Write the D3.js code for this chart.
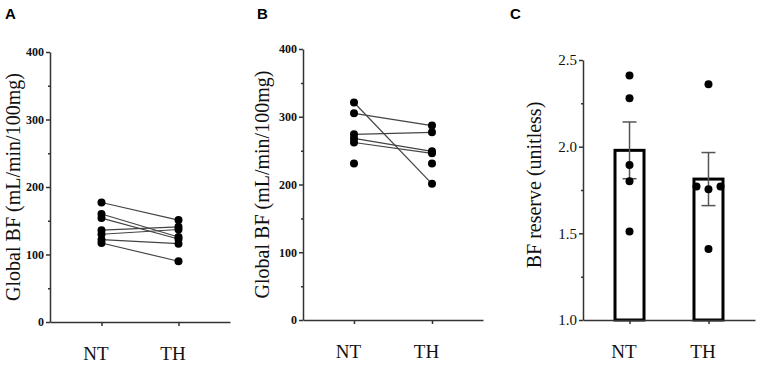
<!DOCTYPE html>
<html>
<head>
<meta charset="utf-8">
<script src="https://cdn.jsdelivr.net/npm/d3@7"></script>
<style>
  body { margin: 0; background: #fff; }
  .axis path, .axis line { stroke: #333; stroke-width: 1.5px; }
</style>
</head>
<body>
<svg id="chart" width="765" height="367"></svg>
<script>
// data
const groups = ["NT", "TH"];

// panel A: paired global BF (mL/min/100mg)
const aNT = [177, 160, 154, 136, 130, 122, 117];
const aTH = [151, 126, 123, 141, 137, 116, 90];

// panel B: paired global BF, plus one unpaired point per group
const bNT = [321, 305, 274, 268, 262];
const bTH = [201, 287, 277, 249, 246];
const bNTsingle = [231];
const bTHsingle = [231];

// panel C: BF reserve
const cNT = [2.41, 2.28, 1.894, 1.80, 1.51];
const cTH = [2.36, 1.77, 1.755, 1.77, 1.41];

const bfTicks = [0, 100, 200, 300, 400];
const bfMinor = [50, 150, 250, 350];
const resTicks = [1.0, 1.5, 2.0, 2.5];
const resMinor = [1.25, 1.75, 2.25];

const serif = '"Liberation Serif", "Times New Roman", serif';
const svg = d3.select("#chart");

function drawAxes(g, x, y, ticks, minor, fmt, tickFont, bold) {
  const ya = g.append("g").attr("class", "axis")
    .attr("transform", `translate(${x.range()[0]},0)`)
    .call(d3.axisLeft(y).tickValues(ticks).tickFormat(fmt).tickSize(4).tickSizeOuter(0).tickPadding(2));
  ya.selectAll("text")
    .style("font-family", serif)
    .style("font-size", tickFont + "px")
    .style("font-weight", bold ? "bold" : "normal")
    .attr("fill", "#111");
  g.append("g").attr("class", "axis")
    .attr("transform", `translate(${x.range()[0]},0)`)
    .call(d3.axisLeft(y).tickValues(minor).tickSize(2).tickFormat(""))
    .select(".domain").remove();

  const xa = g.append("g").attr("class", "axis")
    .attr("transform", `translate(0,${y.range()[0]})`)
    .call(d3.axisBottom(x).tickSize(4).tickSizeOuter(0).tickPadding(21));
  xa.selectAll("text")
    .style("font-family", serif)
    .style("font-size", "19px")
    .attr("fill", "#111").attr("dx", -6);
}

function pairedPanel(opts) {
  const g = svg.append("g");
  const x = d3.scalePoint().domain(groups).range(opts.xr).padding(opts.pad);
  const y = d3.scaleLinear().domain([0, 400]).range(opts.yr);
  drawAxes(g, x, y, bfTicks, bfMinor, d3.format("d"), 12, true);

  const pairs = d3.zip(opts.nt, opts.th);
  g.selectAll(".pair").data(pairs).join("line")
    .attr("x1", x("NT")).attr("x2", x("TH"))
    .attr("y1", d => y(d[0])).attr("y2", d => y(d[1]))
    .attr("stroke", "#444").attr("stroke-width", 1.2);

  const pts = opts.nt.concat(opts.ntSingle || []).map(v => ["NT", v])
    .concat(opts.th.concat(opts.thSingle || []).map(v => ["TH", v]));
  g.selectAll(".pt").data(pts).join("circle")
    .attr("cx", d => x(d[0])).attr("cy", d => y(d[1])).attr("r", 4).attr("fill", "#000");

  g.append("text")
    .attr("transform", `translate(${opts.labelX},${(opts.yr[0] + opts.yr[1]) / 2}) rotate(-90)`)
    .attr("text-anchor", "middle")
    .style("font-family", serif).style("font-size", "20px").attr("fill", "#111")
    .text("Global BF (mL/min/100mg)");
}

pairedPanel({ xr: [50, 230], pad: 0.669, yr: [322, 52], nt: aNT, th: aTH, labelX: 20 });
pairedPanel({ xr: [303, 483], pad: 0.654, yr: [320, 49], nt: bNT, th: bTH,
  ntSingle: bNTsingle, thSingle: bTHsingle, labelX: 269 });

// panel C: mean +/- SEM bars with points
(function () {
  const g = svg.append("g");
  const x = d3.scalePoint().domain(groups).range([583, 755]).padding(0.589);
  const y = d3.scaleLinear().domain([1.0, 2.5]).range([320, 60]);
  const sets = [["NT", cNT], ["TH", cTH]].map(([k, v]) => {
    const m = d3.mean(v);
    const sem = d3.deviation(v) / Math.sqrt(v.length);
    return { k, v, m, sem };
  });
  const bw = 29;

  g.selectAll(".bar").data(sets).join("rect")
    .attr("x", d => x(d.k) - bw / 2).attr("width", bw)
    .attr("y", d => y(d.m)).attr("height", d => y(1.0) - y(d.m))
    .attr("fill", "#fff").attr("stroke", "#000").attr("stroke-width", 3);

  const eb = g.selectAll(".err").data(sets).join("g").attr("stroke", "#555").attr("stroke-width", 1.5);
  eb.append("line").attr("x1", d => x(d.k)).attr("x2", d => x(d.k))
    .attr("y1", d => y(d.m + d.sem)).attr("y2", d => y(d.m - d.sem));
  eb.append("line").attr("x1", d => x(d.k) - 7).attr("x2", d => x(d.k) + 7)
    .attr("y1", d => y(d.m + d.sem)).attr("y2", d => y(d.m + d.sem));
  eb.append("line").attr("x1", d => x(d.k) - 7).attr("x2", d => x(d.k) + 7)
    .attr("y1", d => y(d.m - d.sem)).attr("y2", d => y(d.m - d.sem));

  drawAxes(g, x, y, resTicks, resMinor, d3.format(".1f"), 15, false);

  // spread tied TH points sideways like the original
  const jitter = { "TH": [0, -12, 0, 12, 0], "NT": [0, 0, 0, 0, 0] };
  const pts = sets.flatMap(s => s.v.map((v, i) => ({ k: s.k, v, dx: jitter[s.k][i] })));
  g.selectAll(".pt").data(pts).join("circle")
    .attr("cx", d => x(d.k) + d.dx).attr("cy", d => y(d.v)).attr("r", 4).attr("fill", "#000");

  g.append("text")
    .attr("transform", `translate(541,185) rotate(-90)`)
    .attr("text-anchor", "middle")
    .style("font-family", serif).style("font-size", "20px").attr("fill", "#111")
    .text("BF reserve (unitless)");
})();

[["A", 5], ["B", 257], ["C", 510]].forEach(([t, xp]) => {
  svg.append("text").attr("x", xp).attr("y", 19)
    .style("font-family", '"Liberation Sans", Arial, sans-serif')
    .style("font-weight", "bold").style("font-size", "15px")
    .text(t);
});
</script>
</body>
</html>
